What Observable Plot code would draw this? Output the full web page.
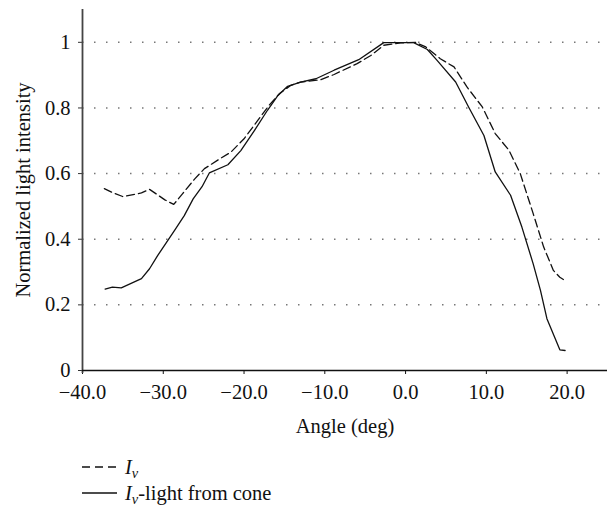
<!DOCTYPE html>
<html>
<head>
<meta charset="utf-8">
<script src="https://cdn.jsdelivr.net/npm/d3@7"></script>
<script src="https://cdn.jsdelivr.net/npm/@observablehq/plot@0.6"></script>
<style>
  html, body { margin: 0; padding: 0; background: #fff; }
  body { width: 607px; height: 506px; overflow: hidden; font-family: "Liberation Serif", serif; color: #111; }
  #legend { padding-left: 82px; padding-top: 14px; font-size: 20.5px; }
  .row { height: 26px; line-height: 20px; display: flex; align-items: center; }
  .row svg { width: 35px; height: 10px; margin-right: 8px; flex: none; }
  sub { font-size: 0.7em; line-height: 0; vertical-align: -0.3em; }
</style>
</head>
<body>
<div id="chart"></div>
<div id="legend"></div>
<script>
// Angle (deg) and normalized intensity for I_v (dashed)
const ivAngle = [-37.3, -36.2, -35.0, -32.7, -31.7, -29.8, -28.7, -27.6, -26.1, -24.9, -23.2, -21.6, -20.0, -18.3, -16.9, -15.6, -14.2, -13.0, -10.5, -8.85, -6.0, -4.3, -2.7, -0.6, 1.2, 2.5, 4.3, 6.0, 7.6, 9.5, 11.1, 12.8, 14.2, 15.8, 17.1, 18.3, 19.1, 19.75];
const ivValue = [0.554, 0.541, 0.530, 0.541, 0.552, 0.520, 0.506, 0.539, 0.584, 0.615, 0.642, 0.666, 0.706, 0.762, 0.808, 0.844, 0.869, 0.879, 0.886, 0.902, 0.935, 0.960, 0.991, 0.998, 1.000, 0.986, 0.950, 0.925, 0.864, 0.803, 0.722, 0.671, 0.600, 0.478, 0.376, 0.305, 0.284, 0.274];

// I_v - light from cone (solid)
const coneAngle = [-37.2, -36.3, -35.2, -32.7, -31.7, -30.7, -28.6, -27.4, -26.3, -25.2, -24.3, -22.0, -20.4, -18.7, -17.1, -15.8, -14.6, -13.0, -11.1, -8.85, -5.8, -2.7, 1.0, 2.7, 3.9, 6.2, 7.8, 9.7, 11.1, 13.0, 14.4, 15.8, 16.7, 17.5, 19.1, 19.75];
const coneValue = [0.248, 0.254, 0.252, 0.280, 0.310, 0.350, 0.427, 0.472, 0.523, 0.560, 0.602, 0.627, 0.670, 0.732, 0.793, 0.838, 0.866, 0.879, 0.889, 0.915, 0.947, 0.999, 0.999, 0.978, 0.945, 0.879, 0.803, 0.716, 0.605, 0.534, 0.437, 0.325, 0.244, 0.158, 0.063, 0.061];

const xTicks = [-40, -30, -20, -10, 0, 10, 20];
const yTicks = [0, 0.2, 0.4, 0.6, 0.8, 1];
const gridValues = [0.2, 0.4, 0.6, 0.8, 1];
const seriesNames = ["I_v", "I_v-light from cone"];

const ivData = ivAngle.map((a, i) => ({angle: a, value: ivValue[i]}));
const coneData = coneAngle.map((a, i) => ({angle: a, value: coneValue[i]}));

const chart = Plot.plot({
  width: 607,
  height: 440,
  marginLeft: 82,
  marginRight: 0,
  marginTop: 9,
  marginBottom: 70,
  style: {fontFamily: "'Liberation Serif', serif", fontSize: "20.5px", color: "#111", background: "#fff", overflow: "visible"},
  x: {domain: [-40, 25]},
  y: {domain: [0, 1.1]},
  marks: [
    Plot.ruleY(gridValues, {stroke: "#777", strokeWidth: 1.5, strokeDasharray: "1.5,10.5"}),
    Plot.axisX({ticks: xTicks, tickFormat: d3.format(".1f"), tickSize: 4, tickPadding: 10, label: "Angle (deg)", labelAnchor: "center", labelOffset: 62, labelArrow: "none", stroke: "#111"}),
    Plot.axisY({ticks: yTicks, tickFormat: d => String(d), tickSize: 4, tickPadding: 8, label: "Normalized light intensity", labelAnchor: "center", labelOffset: 67, labelArrow: "none", stroke: "#333"}),
    Plot.ruleX([-40], {stroke: "#444", strokeWidth: 1.8, insetBottom: -3}),
    Plot.ruleY([0], {stroke: "#111", strokeWidth: 1.3}),
    Plot.line(ivData, {x: "angle", y: "value", stroke: "#111", strokeWidth: 1.3, strokeDasharray: "8,4"}),
    Plot.line(coneData, {x: "angle", y: "value", stroke: "#111", strokeWidth: 1.3})
  ]
});
document.getElementById("chart").appendChild(chart);

const legend = document.getElementById("legend");
const dashes = ["8,5", null];
seriesNames.forEach((name, i) => {
  const row = document.createElement("div");
  row.className = "row";
  const rest = name.slice(3);
  row.innerHTML = `<svg viewBox="0 0 35 10"><line x1="0" y1="5" x2="35" y2="5" stroke="#111" stroke-width="1.3" ${dashes[i] ? `stroke-dasharray="${dashes[i]}"` : ""}/></svg><span><i>I</i><sub><i>v</i></sub>${rest}</span>`;
  legend.appendChild(row);
});
</script>
</body>
</html>
